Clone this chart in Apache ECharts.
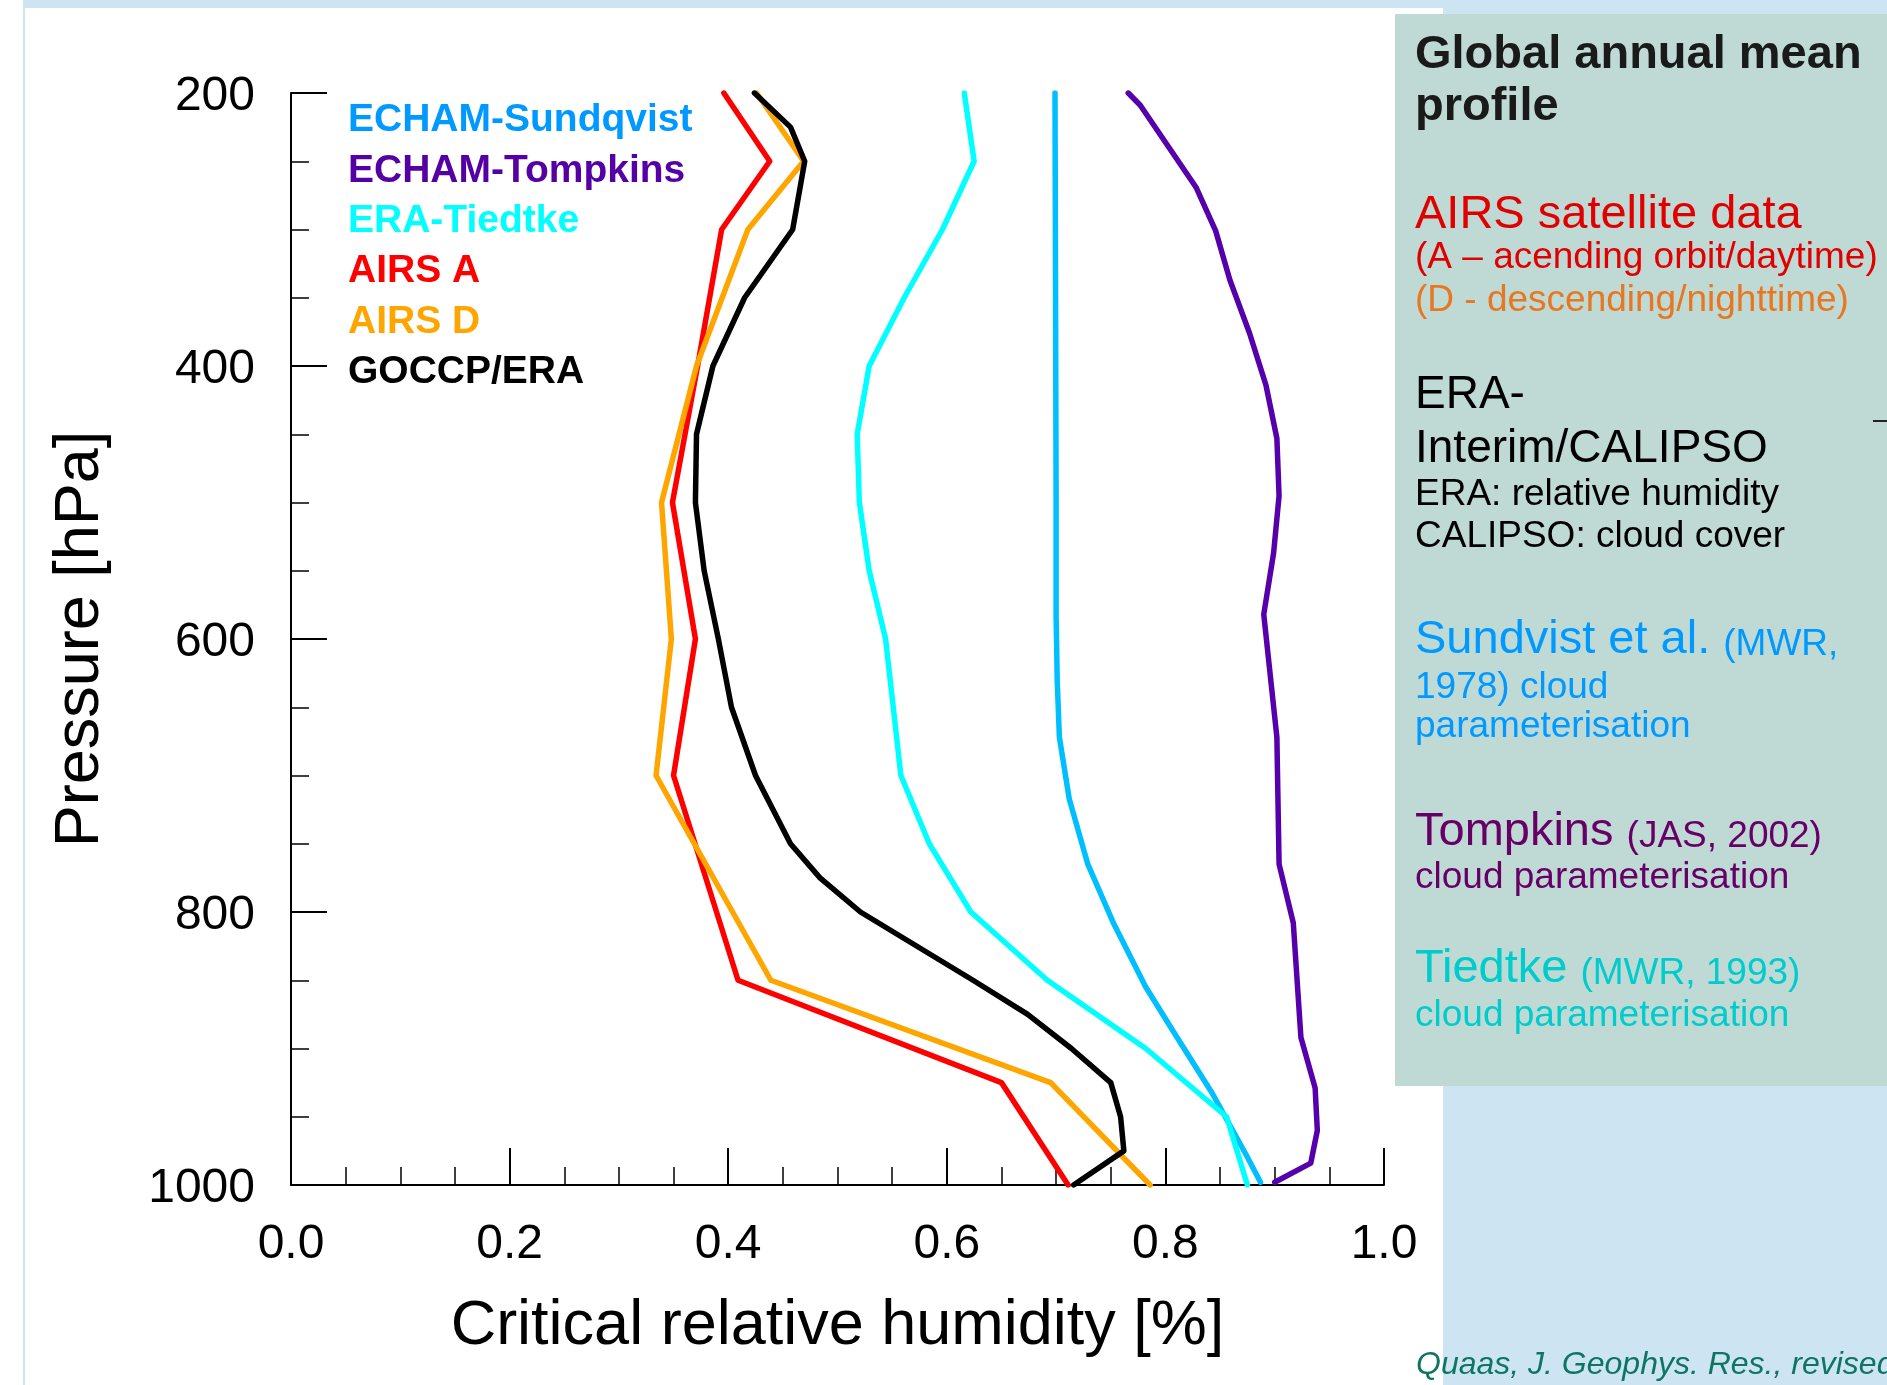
<!DOCTYPE html>
<html>
<head>
<meta charset="utf-8">
<title>Critical relative humidity profiles</title>
<script src="https://cdn.jsdelivr.net/npm/echarts@6/dist/echarts.min.js"></script>
<style>
  html, body { margin: 0; padding: 0; background: #fff; }
  #chart { width: 1887px; height: 1385px; }
</style>
</head>
<body>
<div id="chart"></div>
<script>
// pressure levels (hPa) at which each profile has a vertex
const sundqvistLevels = [200, 495, 582, 630, 672, 717, 765, 809, 855, 891, 933, 978, 998];
const tompkinsLevels = [200, 209, 269, 301, 337, 376, 414, 453, 495, 537, 582, 672, 765, 808, 892, 929, 960, 984, 998];
const tiedtkeLevels = [200, 250, 300, 350, 400, 450, 500, 550, 600, 700, 750, 800, 850, 900, 950, 1000];
const airsLevels = [200, 250, 300, 400, 500, 600, 700, 850, 925, 1000];
const goccpLevels = [200, 225, 250, 300, 350, 400, 450, 500, 550, 600, 650, 700, 750, 775, 800, 850, 875, 900, 925, 950, 975, 1000];

// critical relative humidity
const sundqvistRh = [0.699, 0.700, 0.700, 0.701, 0.703, 0.712, 0.729, 0.753, 0.782, 0.810, 0.843, 0.874, 0.887];
const tompkinsRh = [0.766, 0.777, 0.828, 0.846, 0.859, 0.877, 0.892, 0.902, 0.904, 0.899, 0.890, 0.902, 0.904, 0.917, 0.924, 0.937, 0.939, 0.933, 0.900];
const tiedtkeRh = [0.616, 0.625, 0.596, 0.561, 0.529, 0.518, 0.520, 0.529, 0.544, 0.558, 0.584, 0.622, 0.692, 0.782, 0.856, 0.875];
const airsARh = [0.396, 0.438, 0.394, 0.372, 0.349, 0.370, 0.350, 0.409, 0.650, 0.711];
const airsDRh = [0.426, 0.469, 0.418, 0.371, 0.339, 0.348, 0.334, 0.439, 0.695, 0.786];
const goccpRh = [0.424, 0.457, 0.470, 0.459, 0.415, 0.386, 0.371, 0.370, 0.378, 0.391, 0.403, 0.425, 0.457, 0.484, 0.521, 0.624, 0.674, 0.714, 0.750, 0.759, 0.762, 0.716];

const seriesNames = ['ECHAM-Sundqvist', 'ECHAM-Tompkins', 'ERA-Tiedtke', 'AIRS A', 'AIRS D', 'GOCCP/ERA'];
const lineColors = ['#00BFFF', '#5500AA', '#00FFFF', '#FF0000', '#FFA500', '#000000'];
const legendColors = ['#0099FF', '#5500A5', '#00FFFF', '#FF0000', '#FFA500', '#000000'];

const FONT = '"Liberation Sans", Arial, Helvetica, sans-serif';

function pairs(rh, levels) {
  return rh.map(function (v, i) { return [v, levels[i]]; });
}

const profiles = [
  pairs(sundqvistRh, sundqvistLevels),
  pairs(tompkinsRh, tompkinsLevels),
  pairs(tiedtkeRh, tiedtkeLevels),
  pairs(airsARh, airsLevels),
  pairs(airsDRh, airsLevels),
  pairs(goccpRh, goccpLevels)
];
// draw order: orange under red, black on top
const drawOrder = [0, 1, 2, 4, 3, 5];

// one line of text in the side panel; y is given as the baseline
function panelText(baseline, text, size, color, weight) {
  return {
    type: 'text', x: 1415, y: baseline + 3 - size * 0.35,
    style: {
      text: text, fill: color, fontSize: size, fontFamily: FONT,
      fontWeight: weight || 'normal', align: 'left', verticalAlign: 'middle'
    }
  };
}

// big title word followed by a smaller reference
function panelRich(baseline, big, small, color) {
  return {
    type: 'text', x: 1415, y: baseline + 3 - 47 * 0.35,
    style: {
      text: '{a|' + big + ' }{b|' + small + '}',
      align: 'left', verticalAlign: 'middle', fontFamily: FONT,
      rich: {
        a: { fontSize: 47, lineHeight: 47, fill: color, fontFamily: FONT, verticalAlign: 'bottom' },
        b: { fontSize: 37, lineHeight: 37, fill: color, fontFamily: FONT, verticalAlign: 'bottom' }
      }
    }
  };
}

const chart = echarts.init(document.getElementById('chart'), null, { renderer: 'canvas' });

const option = {
  backgroundColor: '#ffffff',
  animation: false,
  grid: { left: 291, top: 93, width: 1093, height: 1092 },
  legend: {
    orient: 'vertical',
    left: 337,
    top: 96,
    itemWidth: 0,
    itemHeight: 0,
    itemGap: 11.4,
    selectedMode: false,
    itemStyle: { opacity: 0 },
    lineStyle: { opacity: 0 },
    textStyle: { fontSize: 39, lineHeight: 39, fontWeight: 'bold', fontFamily: FONT },
    data: seriesNames.map(function (n, i) {
      return { name: n, textStyle: { color: legendColors[i] } };
    })
  },
  xAxis: {
    type: 'value',
    min: 0,
    max: 1,
    interval: 0.2,
    name: 'Critical relative humidity [%]',
    nameLocation: 'middle',
    nameGap: 110,
    nameTextStyle: { fontSize: 63, color: '#000', fontFamily: FONT },
    axisLine: { show: true, lineStyle: { color: '#000', width: 2 } },
    axisTick: { show: true, inside: true, length: 37, lineStyle: { color: '#000', width: 2 } },
    minorTick: { show: true, splitNumber: 4, length: 18, lineStyle: { color: '#000', width: 1.5 } },
    axisLabel: {
      margin: 36, fontSize: 48, color: '#000', fontFamily: FONT,
      formatter: function (v) { return v.toFixed(1); }
    },
    splitLine: { show: false }
  },
  yAxis: {
    type: 'value',
    inverse: true,
    min: 200,
    max: 1000,
    interval: 200,
    name: 'Pressure [hPa]',
    nameLocation: 'middle',
    nameRotate: 90,
    nameGap: 179,
    nameTextStyle: { fontSize: 63, color: '#000', fontFamily: FONT },
    axisLine: { show: true, lineStyle: { color: '#000', width: 2 } },
    axisTick: { show: true, inside: true, length: 36, lineStyle: { color: '#000', width: 2 } },
    minorTick: { show: true, splitNumber: 4, length: 18, lineStyle: { color: '#000', width: 1.5 } },
    axisLabel: {
      margin: 36, fontSize: 48, color: '#000', fontFamily: FONT,
      verticalAlign: 'top', lineHeight: 8,
      formatter: function (v) { return String(v); }
    },
    splitLine: { show: false }
  },
  series: drawOrder.map(function (i) {
    return {
      name: seriesNames[i],
      type: 'line',
      data: profiles[i],
      showSymbol: false,
      symbol: 'none',
      lineStyle: { color: lineColors[i], width: 5.5, join: 'round', cap: 'round' },
      itemStyle: { color: lineColors[i] },
      z: 3 + i
    };
  }),
  graphic: [
    // page frame
    { type: 'rect', z: -1, shape: { x: 23, y: 0, width: 1864, height: 8 }, style: { fill: '#CDE4F3' } },
    { type: 'rect', z: -1, shape: { x: 23, y: 0, width: 2, height: 1385 }, style: { fill: '#CDE4F3' } },
    { type: 'rect', z: -1, shape: { x: 1443, y: 0, width: 444, height: 1385 }, style: { fill: '#CDE4F3' } },
    { type: 'rect', z: -1, shape: { x: 1395, y: 14, width: 492, height: 1072 }, style: { fill: '#BFD9D5' } },
    { type: 'line', shape: { x1: 1873, y1: 421, x2: 1887, y2: 421 }, style: { stroke: '#222', lineWidth: 2 } },

    panelText(68, 'Global annual mean', 47, '#1a1a1a', 'bold'),
    panelText(120, 'profile', 47, '#1a1a1a', 'bold'),
    panelText(228, 'AIRS satellite data', 47, '#E00000'),
    panelText(268, '(A \u2013 acending orbit/daytime)', 37, '#E00000'),
    panelText(311, '(D - descending/nighttime)', 37, '#E87722'),
    panelText(408, 'ERA-', 46, '#000'),
    panelText(462, 'Interim/CALIPSO', 46, '#000'),
    panelText(505, 'ERA: relative humidity', 37, '#000'),
    panelText(547, 'CALIPSO: cloud cover', 37, '#000'),
    panelRich(653, 'Sundvist et al.', '(MWR,', '#0099FF'),
    panelText(698, '1978) cloud', 37, '#0099FF'),
    panelText(737, 'parameterisation', 37, '#0099FF'),
    panelRich(845, 'Tompkins', '(JAS, 2002)', '#660066'),
    panelText(888, 'cloud parameterisation', 37, '#660066'),
    panelRich(982, 'Tiedtke', '(MWR, 1993)', '#00CCCC'),
    panelText(1026, 'cloud parameterisation', 37, '#00CCCC'),
    {
      type: 'text', x: 1416, y: 1376 - 32 * 0.35,
      style: {
        text: 'Quaas, J. Geophys. Res., revised', fill: '#0E7563', fontSize: 32,
        fontStyle: 'italic', fontFamily: FONT, align: 'left', verticalAlign: 'middle'
      }
    }
  ]
};

chart.setOption(option);
</script>
</body>
</html>
